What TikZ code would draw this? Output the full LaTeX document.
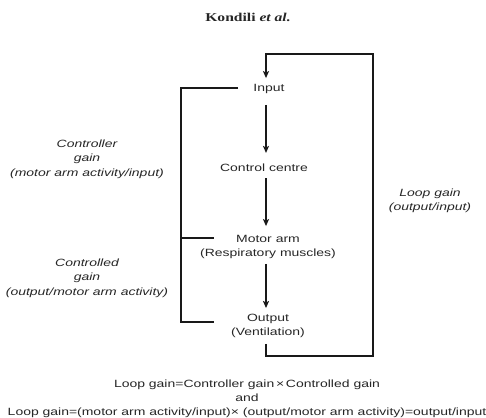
\documentclass[tikz,border=0pt]{standalone}
\usepackage{fontspec}
\setmainfont{Liberation Sans}[FakeStretch=1.33]
\newfontfamily\titlefont{Liberation Serif}[FakeStretch=1.3]
\usetikzlibrary{arrows.meta,calc}
\begin{document}
\begin{tikzpicture}[x=1pt,y=-1pt,
  font=\fontsize{10.5}{14}\selectfont,
  lbl/.style={inner sep=0pt, align=center, text=black!85},
  gain/.style={font=\fontsize{10.5}{14.5}\selectfont\itshape, align=center, text=black!85},
  wire/.style={line width=1.4pt, black!90},
  arr/.style={wire, -{Stealth[length=7pt,width=6pt,inset=1.5pt]}}]
\useasboundingbox (0,0) rectangle (486,417);

% title
\node[text=black!85] (title) at (248,17) {\titlefont\bfseries\fontsize{12}{14}\selectfont Kondili \textit{et al.}};

% arrow column
\coordinate (col) at (266,0);

% chain
\node[lbl] (input) at (269,89) {Input};
\node[lbl] (control) at (264,168) {Control centre};
\node[lbl] (motor) at (268,247) {Motor arm\\(Respiratory muscles)};
\node[lbl] (output) at (268,326) {Output\\(Ventilation)};

\draw[arr, shorten <=11pt, shorten >=11pt] (input.south -| col) -- (control.north -| col);
\draw[arr, shorten <=6pt, shorten >=9pt] (control.south -| col) -- (motor.north -| col);
\draw[arr, shorten <=5pt, shorten >=6pt] (motor.south -| col) -- (output.north -| col);

% loop back
\coordinate (lb) at (373,356);
\coordinate (lt) at (373,54);
\draw[arr, shorten <=6pt, shorten >=6pt] (output.south -| col) |- (lb) -- (lt) -| (input.north -| col);

% left bracket
\coordinate (bt) at (238,88);
\coordinate (btl) at (181,88);
\coordinate (bbl) at (181,322);
\coordinate (bb) at (214,322);
\coordinate (bml) at (181,238);
\coordinate (bm) at (214,238);
\draw[wire] (bt) -- (btl) -- (bbl) -- (bb);
\draw[wire] (bml) -- (bm);

% gain labels
\node[gain] (cg) at (87,159) {Controller\\gain\\(motor arm activity/input)};
\node[gain] (cdg) at (87,278) {Controlled\\gain\\(output/motor arm activity)};
\node[gain] (lg) at (430,201) {Loop gain\\(output/input)};

% formulas
\node[align=center, text=black!85] (formula) at (247,399) {Loop gain=Controller gain\,×\,Controlled gain\\and\\Loop gain=(motor arm activity/input)× (output/motor arm activity)=output/input};
\end{tikzpicture}
\end{document}
